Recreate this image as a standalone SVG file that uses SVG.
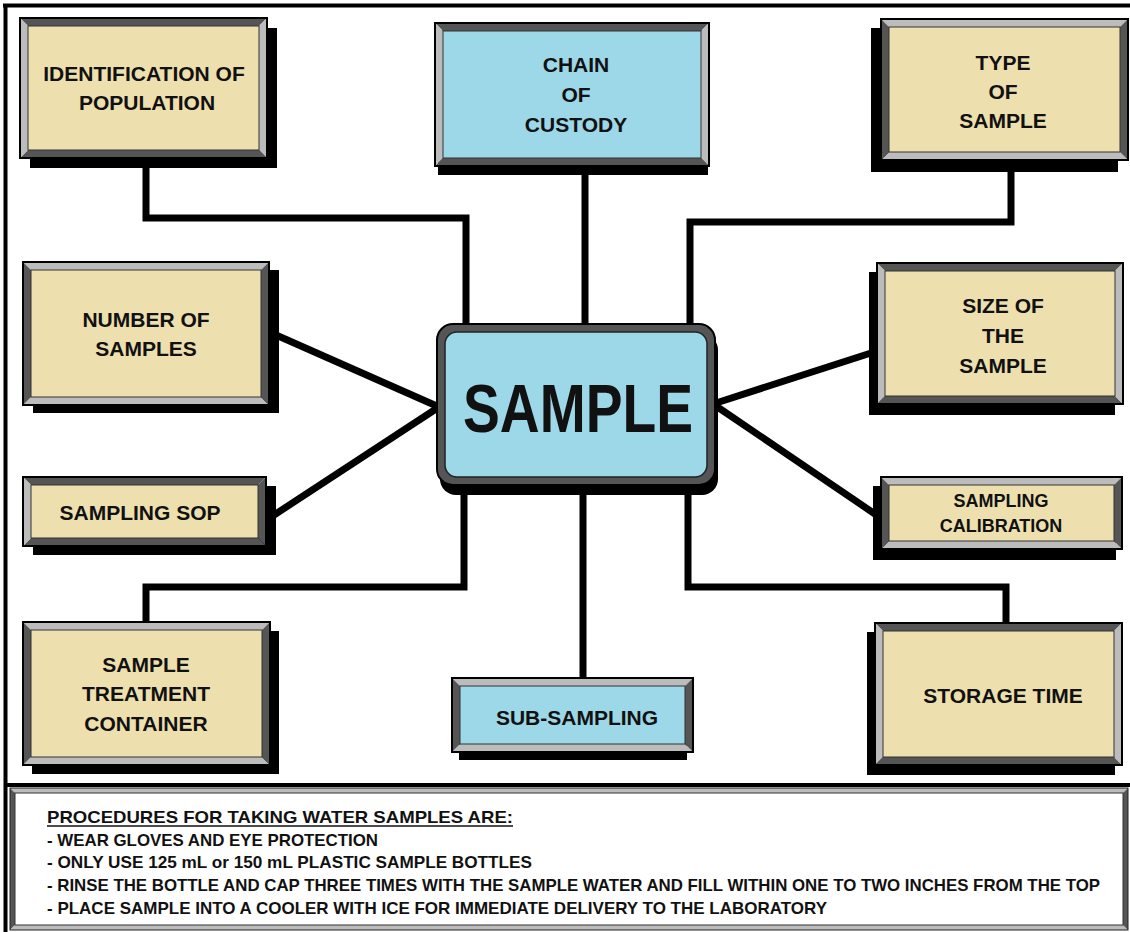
<svg xmlns="http://www.w3.org/2000/svg" width="1130" height="932" viewBox="0 0 1130 932">
<style>
.d{fill:#555555}
.l{fill:#bcbcbc}
.tan{fill:#ede0ae;stroke:#333;stroke-width:1}
.blue{fill:#9dd8e8;stroke:#333;stroke-width:1}
.out{fill:none;stroke:#000;stroke-width:2}
.sh{fill:#000}
.t{font-family:"Liberation Sans",Arial,sans-serif;font-weight:bold;font-size:21px;fill:#111;text-anchor:middle}
.p{font-family:"Liberation Sans",Arial,sans-serif;font-weight:bold;font-size:17px;fill:#111}
.c{fill:none;stroke:#000;stroke-width:7;stroke-linejoin:miter;stroke-linecap:butt}
</style>
<rect x="0" y="0" width="1130" height="932" fill="#fff"/>
<g id="frame">
<line x1="3" y1="5.5" x2="1130" y2="5.5" stroke="#000" stroke-width="4"/>
<line x1="5.5" y1="4" x2="5.5" y2="932" stroke="#000" stroke-width="4"/>
<line x1="4" y1="785" x2="1130" y2="785" stroke="#000" stroke-width="4"/>
</g>
<g id="connectors">
<polyline class="c" points="146,158 146,218 466,218 466,326"/>
<line class="c" x1="585" y1="167" x2="585" y2="326"/>
<polyline class="c" points="1011,160 1011,222 690,222 690,326"/>
<line class="c" x1="276" y1="335" x2="439" y2="407"/>
<line class="c" x1="271" y1="517" x2="439" y2="407"/>
<line class="c" x1="871" y1="353" x2="713" y2="404"/>
<line class="c" x1="875" y1="514" x2="713" y2="404"/>
<polyline class="c" points="464,484 464,587 146,587 146,623"/>
<line class="c" x1="583" y1="484" x2="583" y2="679"/>
<polyline class="c" points="688,484 688,587 1006,587 1006,624"/>
</g>
<g id="n-identification">
<rect class="sh" x="30" y="28" width="247" height="140"/>
<polygon class="d" points="20,18 267,18 259,26 28,26"/>
<polygon class="d" points="20,158 267,158 259,150 28,150"/>
<polygon class="l" points="20,18 28,26 28,150 20,158"/>
<polygon class="l" points="267,18 259,26 259,150 267,158"/>
<rect class="tan" x="28" y="26" width="231" height="124"/>
<rect class="out" x="20" y="18" width="247" height="140"/>
<text class="t" x="144" y="81">IDENTIFICATION OF</text>
<text class="t" x="147" y="110">POPULATION</text>
</g>
<g id="n-chain">
<rect class="sh" x="438" y="30" width="270" height="145"/>
<polygon class="d" points="435,23 709,23 701,31 443,31"/>
<polygon class="d" points="435,166 709,166 701,158 443,158"/>
<polygon class="l" points="435,23 443,31 443,158 435,166"/>
<polygon class="l" points="709,23 701,31 701,158 709,166"/>
<rect class="blue" x="443" y="31" width="258" height="127"/>
<rect class="out" x="435" y="23" width="274" height="143"/>
<text class="t" x="576" y="72">CHAIN</text>
<text class="t" x="576" y="102">OF</text>
<text class="t" x="576" y="132">CUSTODY</text>
</g>
<g id="n-type">
<rect class="sh" x="871" y="28" width="247" height="144"/>
<polygon class="l" points="881,19 1128,19 1120,27 889,27"/>
<polygon class="l" points="881,160 1128,160 1120,152 889,152"/>
<polygon class="d" points="881,19 889,27 889,152 881,160"/>
<polygon class="d" points="1128,19 1120,27 1120,152 1128,160"/>
<rect class="tan" x="889" y="27" width="231" height="125"/>
<rect class="out" x="881" y="19" width="247" height="141"/>
<text class="t" x="1003" y="70">TYPE</text>
<text class="t" x="1003" y="99">OF</text>
<text class="t" x="1003" y="128">SAMPLE</text>
</g>
<g id="n-number">
<rect class="sh" x="33" y="270" width="246" height="143"/>
<polygon class="l" points="23,262 269,262 261,270 31,270"/>
<polygon class="l" points="23,405 269,405 261,397 31,397"/>
<polygon class="d" points="23,262 31,270 31,397 23,405"/>
<polygon class="d" points="269,262 261,270 261,397 269,405"/>
<rect class="tan" x="31" y="270" width="230" height="127"/>
<rect class="out" x="23" y="262" width="246" height="143"/>
<text class="t" x="146" y="327">NUMBER OF</text>
<text class="t" x="146" y="356">SAMPLES</text>
</g>
<g id="n-size">
<rect class="sh" x="869" y="272" width="246" height="143"/>
<polygon class="d" points="877,263 1123,263 1115,271 885,271"/>
<polygon class="d" points="877,404 1123,404 1115,396 885,396"/>
<polygon class="l" points="877,263 885,271 885,396 877,404"/>
<polygon class="l" points="1123,263 1115,271 1115,396 1123,404"/>
<rect class="tan" x="885" y="271" width="230" height="125"/>
<rect class="out" x="877" y="263" width="246" height="141"/>
<text class="t" x="1003" y="313">SIZE OF</text>
<text class="t" x="1003" y="343">THE</text>
<text class="t" x="1003" y="373">SAMPLE</text>
</g>
<g id="n-sop">
<rect class="sh" x="33" y="486" width="243" height="69"/>
<polygon class="d" points="23,477 266,477 258,485 31,485"/>
<polygon class="d" points="23,546 266,546 258,538 31,538"/>
<polygon class="l" points="23,477 31,485 31,538 23,546"/>
<polygon class="d" points="266,477 258,485 258,538 266,546"/>
<rect class="tan" x="31" y="485" width="227" height="53"/>
<rect class="out" x="23" y="477" width="243" height="69"/>
<text class="t" x="140" y="520">SAMPLING SOP</text>
</g>
<g id="n-calibration">
<rect class="sh" x="873" y="486" width="243" height="74"/>
<polygon class="l" points="881,477 1122,477 1114,485 889,485"/>
<polygon class="l" points="881,549 1122,549 1114,541 889,541"/>
<polygon class="d" points="881,477 889,485 889,541 881,549"/>
<polygon class="d" points="1122,477 1114,485 1114,541 1122,549"/>
<rect class="tan" x="889" y="485" width="225" height="56"/>
<rect class="out" x="881" y="477" width="241" height="72"/>
<text class="t" x="1001" y="507" style="font-size:18px">SAMPLING</text>
<text class="t" x="1001" y="532" style="font-size:18px">CALIBRATION</text>
</g>
<g id="n-treatment">
<rect class="sh" x="32" y="631" width="247" height="143"/>
<polygon class="l" points="23,622 270,622 262,630 31,630"/>
<polygon class="l" points="23,765 270,765 262,757 31,757"/>
<polygon class="d" points="23,622 31,630 31,757 23,765"/>
<polygon class="d" points="270,622 262,630 262,757 270,765"/>
<rect class="tan" x="31" y="630" width="231" height="127"/>
<rect class="out" x="23" y="622" width="247" height="143"/>
<text class="t" x="146" y="672">SAMPLE</text>
<text class="t" x="146" y="701">TREATMENT</text>
<text class="t" x="146" y="731">CONTAINER</text>
</g>
<g id="n-subsampling">
<rect class="sh" x="459" y="686" width="228" height="74"/>
<polygon class="l" points="452,678 693,678 685,686 460,686"/>
<polygon class="l" points="452,752 693,752 685,744 460,744"/>
<polygon class="d" points="452,678 460,686 460,744 452,752"/>
<polygon class="d" points="693,678 685,686 685,744 693,752"/>
<rect class="blue" x="460" y="686" width="225" height="58"/>
<rect class="out" x="452" y="678" width="241" height="74"/>
<text class="t" x="577" y="725">SUB-SAMPLING</text>
</g>
<g id="n-storage">
<rect class="sh" x="867" y="632" width="248" height="143"/>
<polygon class="d" points="875,623 1122,623 1114,631 883,631"/>
<polygon class="d" points="875,765 1122,765 1114,757 883,757"/>
<polygon class="l" points="875,623 883,631 883,757 875,765"/>
<polygon class="l" points="1122,623 1114,631 1114,757 1122,765"/>
<rect class="tan" x="883" y="631" width="231" height="126"/>
<rect class="out" x="875" y="623" width="247" height="142"/>
<text class="t" x="1003" y="703">STORAGE TIME</text>
</g>
<g id="n-sample">
<rect x="440" y="334" width="278" height="161" rx="16" fill="#000"/>
<rect x="437" y="324" width="278" height="161" rx="16" fill="#555555" stroke="#000" stroke-width="2"/>
<rect x="445" y="332" width="262" height="145" rx="12" fill="#9dd8e8" stroke="#222" stroke-width="1.5"/>
<text x="578" y="432" text-anchor="middle" textLength="230" lengthAdjust="spacingAndGlyphs" style="font-family:'Liberation Sans',Arial,sans-serif;font-weight:bold;font-size:68px;fill:#111">SAMPLE</text>
</g>
<g id="procedures">
<polygon class="l" points="10,788 1128,788 1123,793 15,793"/>
<polygon class="d" points="10,788 15,793 15,925 10,930"/>
<polygon class="l" points="10,930 1128,930 1123,925 15,925"/>
<polygon class="d" points="1128,788 1123,793 1123,925 1128,930"/>
<rect x="15" y="793" width="1108" height="132" fill="#fff" stroke="#333" stroke-width="1"/>
<rect x="10" y="788" width="1118" height="142" fill="none" stroke="#222" stroke-width="1"/>
<text class="p" x="47" y="823" textLength="466" lengthAdjust="spacingAndGlyphs">PROCEDURES FOR TAKING WATER SAMPLES ARE:</text>
<line x1="47" y1="826" x2="513" y2="826" stroke="#111" stroke-width="1.5"/>
<text class="p" x="47" y="846" textLength="331" lengthAdjust="spacingAndGlyphs">- WEAR GLOVES AND EYE PROTECTION</text>
<text class="p" x="47" y="868" textLength="485" lengthAdjust="spacingAndGlyphs">- ONLY USE 125 mL or 150 mL PLASTIC SAMPLE BOTTLES</text>
<text class="p" x="47" y="891" textLength="1053" lengthAdjust="spacingAndGlyphs">- RINSE THE BOTTLE AND CAP THREE TIMES WITH THE SAMPLE WATER AND FILL WITHIN ONE TO TWO INCHES FROM THE TOP</text>
<text class="p" x="47" y="914" textLength="780" lengthAdjust="spacingAndGlyphs">- PLACE SAMPLE INTO A COOLER WITH ICE FOR IMMEDIATE DELIVERY TO THE LABORATORY</text>
</g>
</svg>
